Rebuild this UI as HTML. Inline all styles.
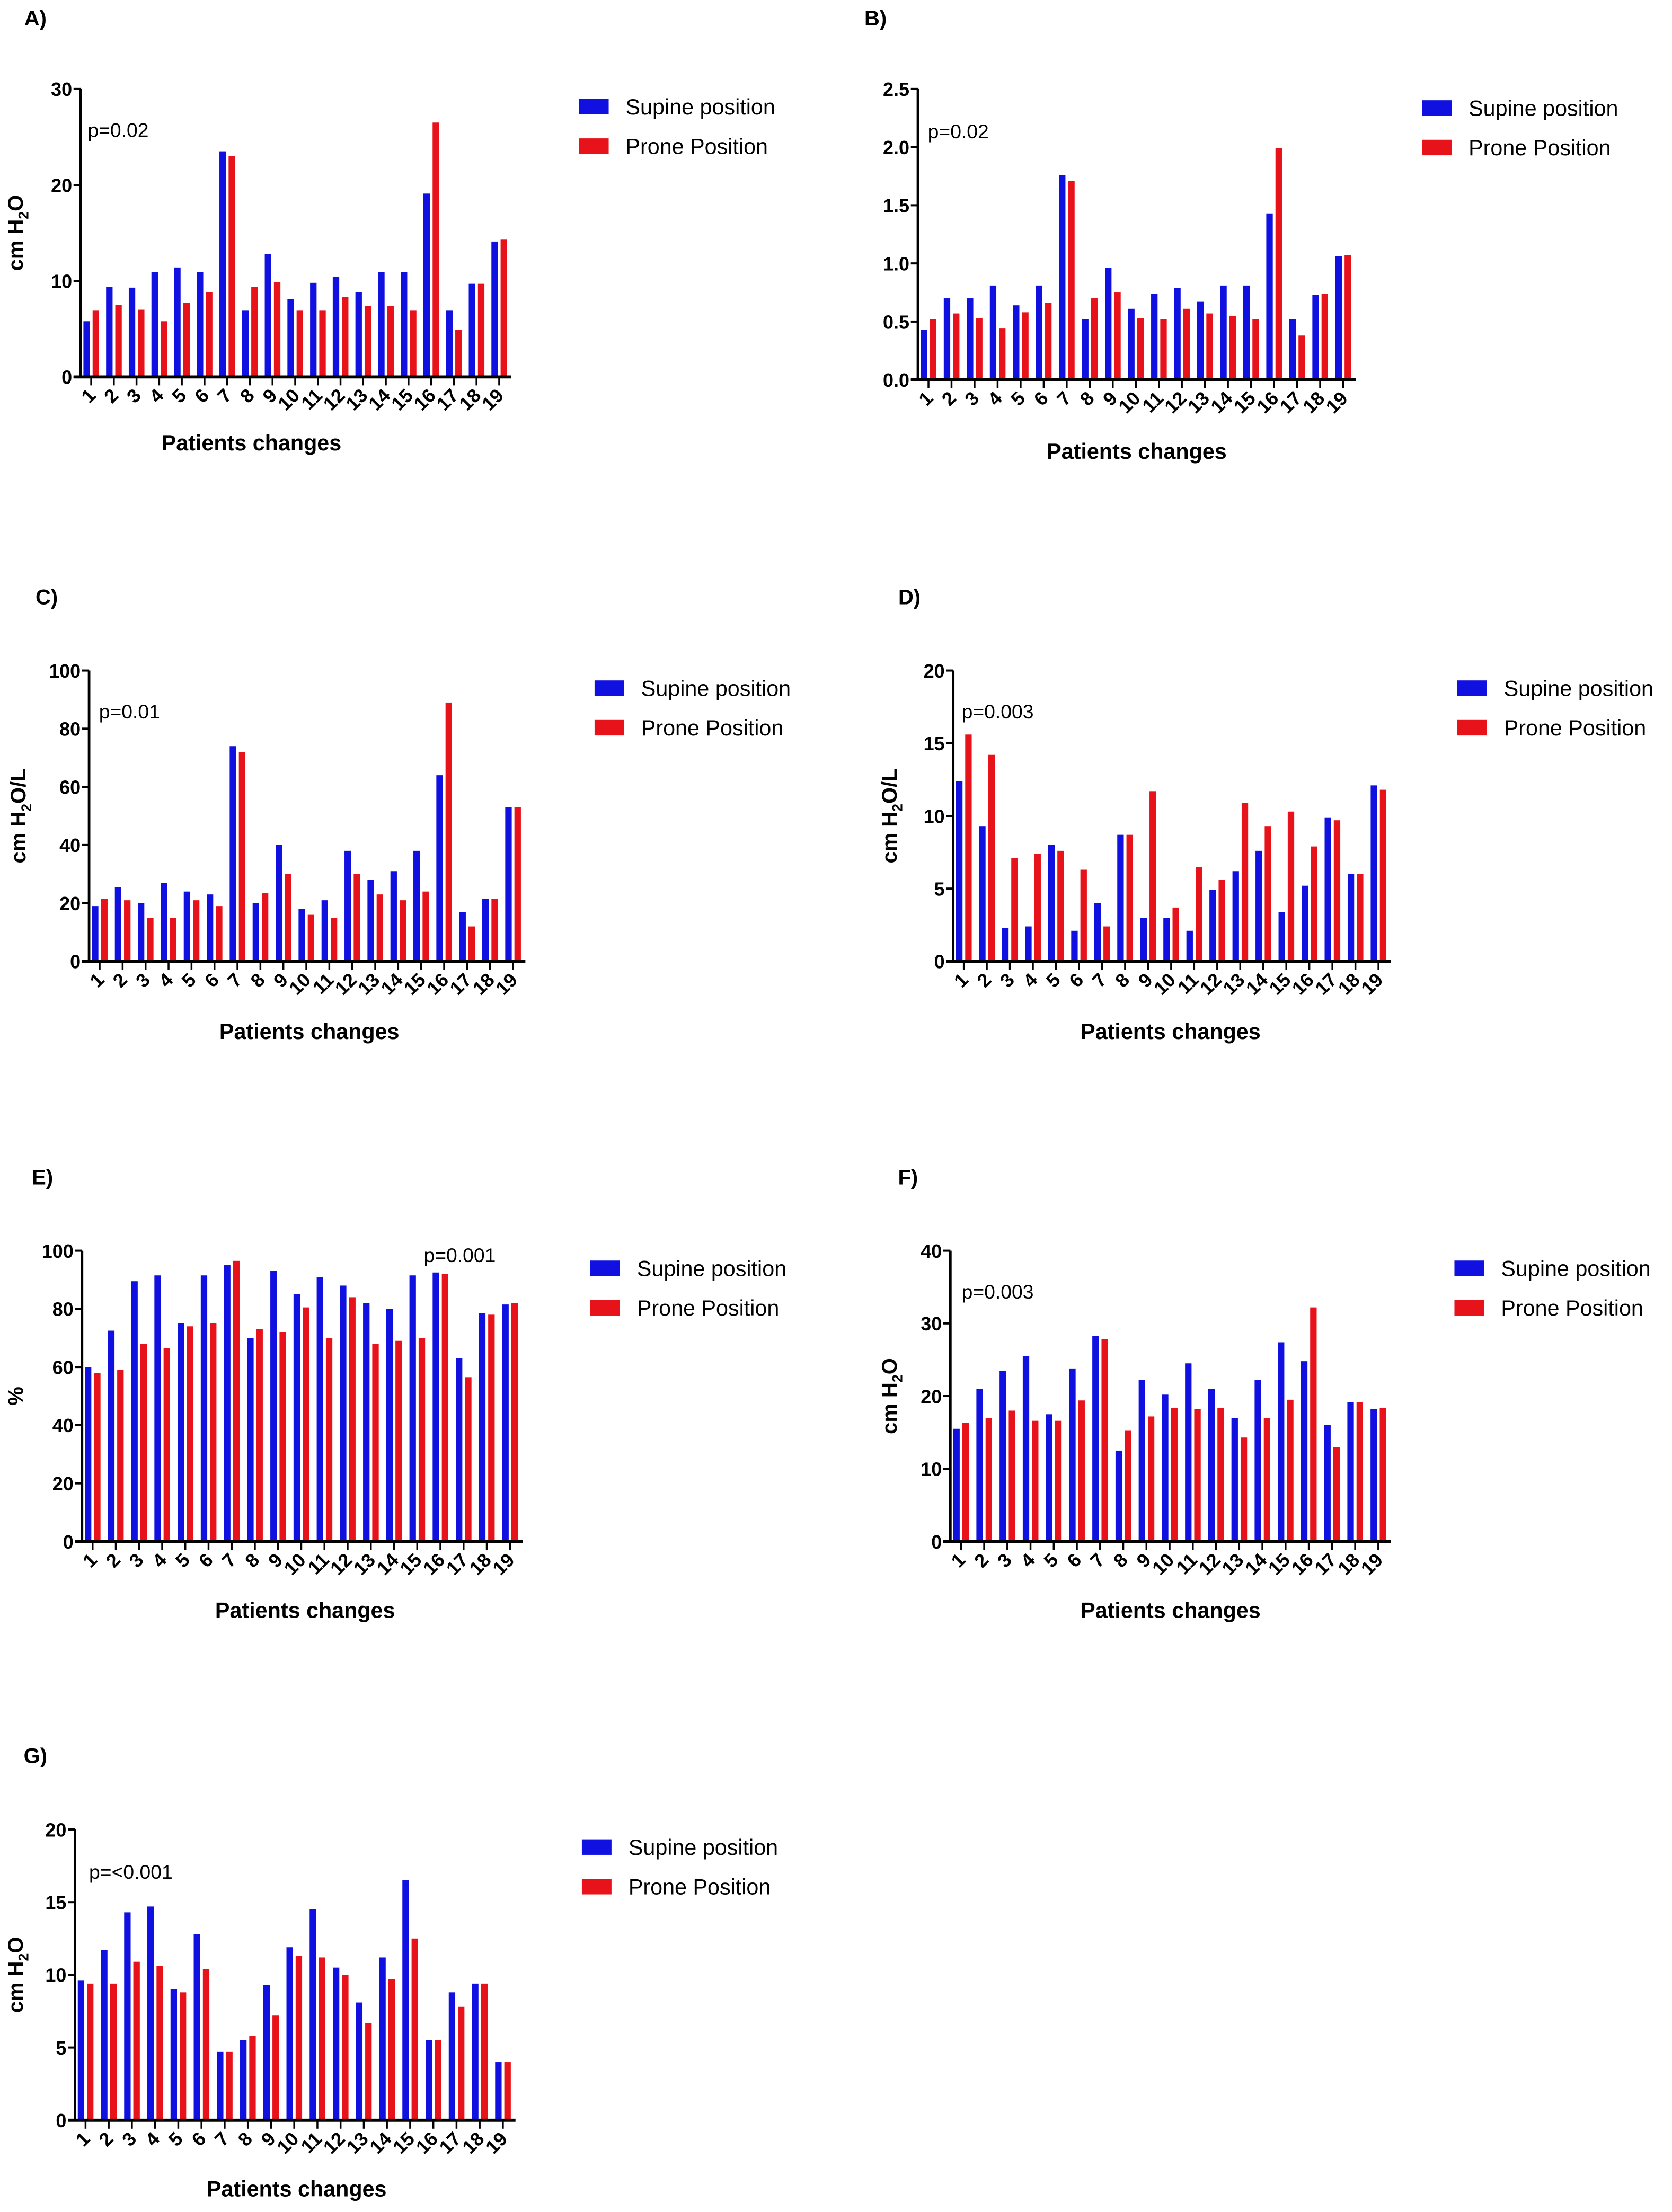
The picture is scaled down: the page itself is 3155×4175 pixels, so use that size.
<!DOCTYPE html>
<html><head><meta charset="utf-8"><style>
html,body{margin:0;padding:0;background:#fff;}
svg{display:block;font-family:"Liberation Sans",Arial,sans-serif;}
</style></head><body>
<svg id="fig" width="3155" height="4175" viewBox="0 0 1184 1567" xmlns="http://www.w3.org/2000/svg"></svg>
<script>
const categories = ["1","2","3","4","5","6","7","8","9","10","11","12","13","14","15","16","17","18","19"];
const supineA = [5.8,9.4,9.3,10.9,11.4,10.9,23.5,6.9,12.8,8.1,9.8,10.4,8.8,10.9,10.9,19.1,6.9,9.7,14.1];
const proneA  = [6.9,7.5,7.0,5.8,7.7,8.8,23.0,9.4,9.9,6.9,6.9,8.3,7.4,7.4,6.9,26.5,4.9,9.7,14.3];
const supineB = [0.43,0.70,0.70,0.81,0.64,0.81,1.76,0.52,0.96,0.61,0.74,0.79,0.67,0.81,0.81,1.43,0.52,0.73,1.06];
const proneB  = [0.52,0.57,0.53,0.44,0.58,0.66,1.71,0.70,0.75,0.53,0.52,0.61,0.57,0.55,0.52,1.99,0.38,0.74,1.07];
const supineC = [19,25.5,20,27,24,23,74,20,40,18,21,38,28,31,38,64,17,21.5,53];
const proneC  = [21.5,21,15,15,21,19,72,23.5,30,16,15,30,23,21,24,89,12,21.5,53];
const supineD = [12.4,9.3,2.3,2.4,8.0,2.1,4.0,8.7,3.0,3.0,2.1,4.9,6.2,7.6,3.4,5.2,9.9,6.0,12.1];
const proneD  = [15.6,14.2,7.1,7.4,7.6,6.3,2.4,8.7,11.7,3.7,6.5,5.6,10.9,9.3,10.3,7.9,9.7,6.0,11.8];
const supineE = [60,72.5,89.5,91.5,75,91.5,95,70,93,85,91,88,82,80,91.5,92.5,63,78.5,81.5];
const proneE  = [58,59,68,66.5,74,75,96.5,73,72,80.5,70,84,68,69,70,92,56.5,78,82];
const supineF = [15.5,21,23.5,25.5,17.5,23.8,28.3,12.5,22.2,20.2,24.5,21,17,22.2,27.4,24.8,16,19.2,18.2];
const proneF  = [16.3,17,18,16.6,16.6,19.4,27.8,15.3,17.2,18.4,18.2,18.4,14.3,17,19.5,32.2,13,19.2,18.4];
const supineG = [9.6,11.7,14.3,14.7,9,12.8,4.7,5.5,9.3,11.9,14.5,10.5,8.1,11.2,16.5,5.5,8.8,9.4,4];
const proneG  = [9.4,9.4,10.9,10.6,8.8,10.4,4.7,5.8,7.2,11.3,11.2,10,6.7,9.7,12.5,5.5,7.8,9.4,4];
const ticksA = ["0","10","20","30"];
const ticksB = ["0.0","0.5","1.0","1.5","2.0","2.5"];
const ticksC = ["0","20","40","60","80","100"];
const ticksD = ["0","5","10","15","20"];
const ticksE = ["0","20","40","60","80","100"];
const ticksF = ["0","10","20","30","40"];
const ticksG = ["0","5","10","15","20"];

const NS="http://www.w3.org/2000/svg";
const svg=document.getElementById('fig');
function mk(tag,attrs,parent,text){const e=document.createElementNS(NS,tag);for(const k in attrs)e.setAttribute(k,attrs[k]);if(text!==undefined)e.textContent=text;(parent||svg).appendChild(e);return e;}

const panels=[
 {id:"a",lab:"A)",lx:25,ly:18,ax:57,top:63,bot:267,xr:362,ticks:ticksA,s:supineA,p:proneA,yl:"cm H2O",ylx:16,tx:178,ty:319,lgx:410,lgy:76,pt:"p=0.02",px:62,py:97},
 {id:"b",lab:"B)",lx:620,ly:18,ax:650,top:63,bot:269,xr:960,ticks:ticksB,s:supineB,p:proneB,yl:null,tx:805,ty:325,lgx:1007,lgy:77,pt:"p=0.02",px:657,py:98},
 {id:"c",lab:"C)",lx:33,ly:428,ax:63,top:475,bot:681,xr:372,ticks:ticksC,s:supineC,p:proneC,yl:"cm H2O/L",ylx:18,tx:219,ty:736,lgx:421,lgy:488,pt:"p=0.01",px:70,py:509},
 {id:"d",lab:"D)",lx:644,ly:428,ax:675,top:475,bot:681,xr:985,ticks:ticksD,s:supineD,p:proneD,yl:"cm H2O/L",ylx:635,tx:829,ty:736,lgx:1032,lgy:488,pt:"p=0.003",px:681,py:509},
 {id:"e",lab:"E)",lx:30,ly:839,ax:58,top:886,bot:1092,xr:370,ticks:ticksE,s:supineE,p:proneE,yl:"%",ylx:16,tx:216,ty:1146,lgx:418,lgy:899,pt:"p=0.001",px:300,py:894},
 {id:"f",lab:"F)",lx:643,ly:839,ax:673,top:886,bot:1092,xr:985,ticks:ticksF,s:supineF,p:proneF,yl:"cm H2O",ylx:635,tx:829,ty:1146,lgx:1030,lgy:899,pt:"p=0.003",px:681,py:920},
 {id:"g",lab:"G)",lx:25,ly:1249,ax:53,top:1296,bot:1502,xr:365,ticks:ticksG,s:supineG,p:proneG,yl:"cm H2O",ylx:16,tx:210,ty:1556,lgx:412,lgy:1309,pt:"p=&lt;0.001",px:63,py:1331}
];

panels.forEach(P=>{
  const g=mk('g',{});
  
  
  const lab=mk('text',{x:P.lx,y:P.ly,'font-size':15,'font-weight':'bold','text-anchor':'middle'},g,P.lab);
  
  
  const ymax=parseFloat(P.ticks[P.ticks.length-1]);
  const y=v=>P.bot-(v/ymax)*(P.bot-P.top);
  const pitch=(P.xr-P.ax)/categories.length;
  const x=i=>P.ax+i*pitch;
  categories.forEach((c,i)=>{
    const b=mk('rect',{x:x(i)+2,y:y(P.s[i]),width:4.6,height:P.bot-y(P.s[i]),fill:'#1010e0'},g);
    
    
    const r=mk('rect',{x:x(i)+8.5,y:y(P.p[i]),width:4.6,height:P.bot-y(P.p[i]),fill:'#e8131a'},g);
    
    
  });
  const ya=mk('line',{x1:P.ax,y1:P.top,x2:P.ax,y2:P.bot+1,stroke:'#000','stroke-width':1.8},g);
  
  
  const xa=mk('line',{x1:P.ax-5,y1:P.bot,x2:P.xr,y2:P.bot,stroke:'#000','stroke-width':2.2},g);
  
  
  P.ticks.forEach(t=>{
    const v=parseFloat(t);
    mk('line',{x1:P.ax-5,y1:y(v),x2:P.ax,y2:y(v),stroke:'#000','stroke-width':1.5},g);
    const tl=mk('text',{x:P.ax-6,y:y(v)+5,'font-size':13.5,'font-weight':'bold','text-anchor':'end'},g,t);
    
    
  });
  categories.forEach((c,i)=>{
    const cx=x(i)+7.5;
    mk('line',{x1:cx,y1:P.bot,x2:cx,y2:P.bot+6,stroke:'#000','stroke-width':1.3},g);
    const tl=mk('text',{x:cx+4,y:P.bot+14,'font-size':13.5,'font-weight':'bold','text-anchor':'end',transform:`rotate(-45 ${cx+4} ${P.bot+14})`},g,c);
    
    
  });
  const tt=mk('text',{x:P.tx,y:P.ty,'font-size':15.5,'font-weight':'bold','text-anchor':'middle'},g,'Patients changes');
  
  
  if(P.yl){
    const cy=(P.top+P.bot)/2;
    const yt=mk('text',{x:P.ylx,y:cy,'font-size':15,'font-weight':'bold','text-anchor':'middle',transform:`rotate(-90 ${P.ylx} ${cy})`},g);
    
    
    if(P.yl==='%'){yt.textContent='%';}
    else{
      mk('tspan',{},yt,'cm H');
      mk('tspan',{'font-size':10,dy:4},yt,'2');
      mk('tspan',{dy:-4},yt,P.yl.slice(5));
    }
  }
  const pv=mk('text',{x:P.px,y:P.py,'font-size':14},g);
  pv.innerHTML=P.pt;
  
  
  [["Supine position",'#1010e0'],["Prone Position",'#e8131a']].forEach((L,k)=>{
    const lg=mk('g',{},g);
    
    
    mk('rect',{x:P.lgx,y:P.lgy-6+k*28,width:21,height:11,fill:L[1]},lg);
    mk('text',{x:P.lgx+33,y:P.lgy+5+k*28,'font-size':15.5},lg,L[0]);
  });
});
</script>
</body></html>
